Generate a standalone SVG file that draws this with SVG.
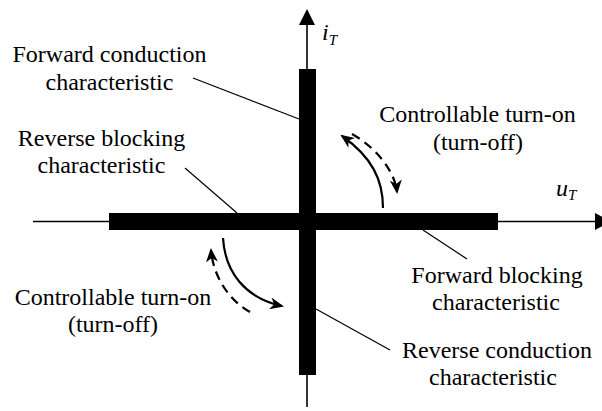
<svg xmlns="http://www.w3.org/2000/svg" width="602" height="411" viewBox="0 0 602 411">
<defs>
<style>
text{font-family:"Liberation Serif",Tinos,"Times New Roman",Times,serif}
.axis{stroke:#000;stroke-width:1.6;fill:none}
.lead{stroke:#000;stroke-width:1.2;fill:none}
.arc{stroke:#000;stroke-width:2.2;fill:none}
.dash{stroke-dasharray:9,6}
.bar{fill:#000}
</style>
<marker id="ah" viewBox="0 0 14 12" refX="12" refY="6" markerWidth="14" markerHeight="12" markerUnits="userSpaceOnUse" orient="auto">
<path d="M0,0 L14,6 L0,12 L4,6 z" fill="#000"/>
</marker>
</defs>
<g id="axes" font-style="italic" fill="#000">
<line class="axis" x1="33" y1="221.5" x2="597" y2="221.5"/>
<polygon points="595,213 611,221.5 595,230" fill="#000"/>
<line class="axis" x1="307" y1="23" x2="307" y2="407"/>
<polygon points="299,25 307,9 315,25" fill="#000"/>
<text x="322" y="40" font-size="24">i<tspan font-size="15" dy="5">T</tspan></text>
<text x="556" y="196" font-size="24">u<tspan font-size="15" dy="4">T</tspan></text>
</g>
<g id="characteristics">
<rect id="vbar" class="bar" x="299" y="69" width="17" height="306"/>
<rect id="hbar" class="bar" x="109" y="213" width="389" height="17"/>
</g>
<g id="labels" font-size="24" fill="#000" text-anchor="middle">
<g id="forward-conduction">
<text x="109.5" y="62">Forward conduction</text>
<text x="109.5" y="90">characteristic</text>
</g>
<g id="reverse-blocking">
<text x="101.5" y="146">Reverse blocking</text>
<text x="101.5" y="173">characteristic</text>
</g>
<g id="forward-blocking">
<text x="497" y="283">Forward blocking</text>
<text x="496" y="310">characteristic</text>
</g>
<g id="reverse-conduction">
<text x="497" y="358">Reverse conduction</text>
<text x="493" y="385">characteristic</text>
</g>
<g id="turn-on-upper">
<text x="477.5" y="122">Controllable turn-on</text>
<text x="478" y="150">(turn-off)</text>
</g>
<g id="turn-on-lower">
<text x="113" y="305">Controllable turn-on</text>
<text x="113" y="332">(turn-off)</text>
</g>
</g>
<g id="connectors">
<line class="lead" x1="193" y1="78" x2="299" y2="119"/>
<line class="lead" x1="185" y1="168" x2="237" y2="213"/>
<line class="lead" x1="423" y1="230" x2="467" y2="259"/>
<line class="lead" x1="316" y1="309" x2="390" y2="350"/>
<path class="arc" d="M383,208 C383,180 372,157 342,136" marker-end="url(#ah)"/>
<path class="arc dash" d="M352,134 C377,148 395,172 397,192" marker-end="url(#ah)"/>
<path class="arc" d="M223,238 C225,272 245,298 282,306" marker-end="url(#ah)"/>
<path class="arc dash" d="M250,312 C228,300 213,275 211,250" marker-end="url(#ah)"/>
</g>
</svg>
